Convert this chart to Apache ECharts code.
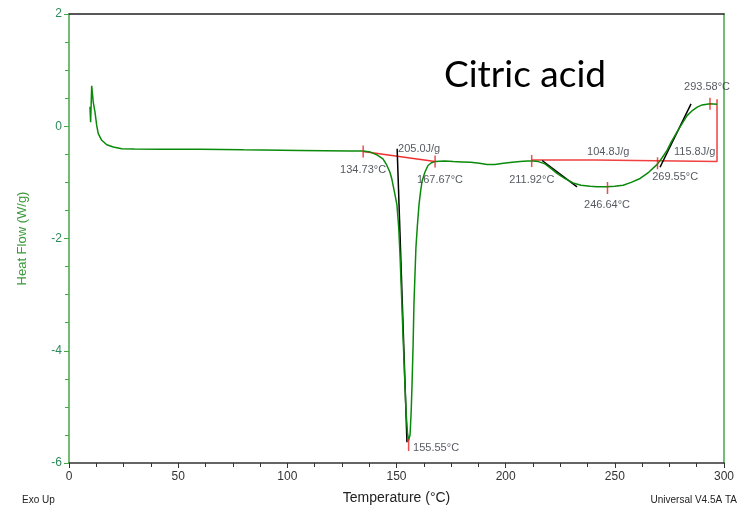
<!DOCTYPE html>
<html lang="en">
<head>
	<meta charset="utf-8">
	<title>Citric acid DSC</title>
	<script src="https://cdn.jsdelivr.net/npm/echarts@6/dist/echarts.min.js"></script>
	<style>
		html, body { margin: 0; padding: 0; background: #fff; }
		#main { width: 739px; height: 510px; }
	</style>
</head>
<body>
	<div id="main"></div>
	<script type="text/javascript">
		// DSC curve: temperature (°C) and heat flow (W/g)
		var temps = [9.6, 9.9, 10.4, 11.1, 11.9, 12.7, 13.4, 15, 17.3, 20.3, 24.1, 30, 41.7, 60, 80, 105.8, 128.7,
			134.7, 138, 141, 143.8, 145.5, 147, 147.8, 149.3, 150.2, 151, 151.6, 152.3, 153, 153.7, 154.4, 155, 155.5,
			156.2, 156.7, 157.1, 157.6, 158, 158.5, 158.9, 159.6, 160.3, 161, 161.7, 163, 164.4, 166, 167.7,
			172, 176, 180, 184, 188, 191.5, 195, 199, 203, 206.6, 210, 212.5, 215, 218, 221, 223.5, 227, 230.9,
			234.5, 238.7, 242, 246.4, 250, 253.8, 257.5, 261.6, 265.5, 269.4, 271.5, 273.9, 276, 278.5, 281,
			283.1, 285.5, 287.7, 290, 293.6, 296.8];
		var heatFlow = [0.35, 0.07, 0.72, 0.43, 0.25, 0.01, -0.13, -0.25, -0.33, -0.37, -0.40, -0.405, -0.41, -0.41, -0.42, -0.43, -0.44,
			-0.44, -0.46, -0.51, -0.58, -0.69, -0.82, -0.93, -1.22, -1.40, -1.8, -2.28, -3.0, -3.74, -4.45, -5.10, -5.45, -5.6,
			-5.5, -5.1, -4.63, -3.9, -3.16, -2.6, -2.16, -1.75, -1.40, -1.17, -0.98, -0.82, -0.70, -0.65, -0.63,
			-0.62, -0.63, -0.635, -0.64, -0.66, -0.68, -0.68, -0.66, -0.64, -0.63, -0.62, -0.62, -0.63, -0.67, -0.76, -0.84, -0.93, -1.01,
			-1.05, -1.07, -1.08, -1.08, -1.07, -1.05, -1.0, -0.93, -0.82, -0.68, -0.57, -0.43, -0.27, -0.10, 0.06,
			0.19, 0.28, 0.34, 0.38, 0.40, 0.39];

		// integration baselines (red)
		var meltBaseline = [[134.73, -0.45], [167.67, -0.63]];
		var decompBaseline = [[211.92, -0.60], [241, -0.60], [241, -0.63], [296.8, -0.63], [296.8, 0.48]];
		// onset tangents (black)
		var tangentMelt = [[150.3, -0.40], [154.8, -5.63]];
		var tangentDecomp1 = [[216.7, -0.61], [232.7, -1.08]];
		var tangentDecomp2 = [[270.7, -0.73], [284.9, 0.40]];
		// red limit markers
		var markerPoints = [[134.73, -0.45], [167.67, -0.63], [155.55, -5.68], [211.92, -0.62],
			[246.64, -1.10], [269.55, -0.66], [293.58, 0.40]];
		// text annotations [x, y, text]
		var annotLeft = [
			[150.7, -0.40, '205.0J/g'], [159.4, -0.96, '167.67°C'], [157.6, -5.74, '155.55°C'],
			[201.6, -0.96, '211.92°C'], [235.9, -1.40, '246.64°C'], [237.3, -0.45, '104.8J/g'],
			[277.1, -0.45, '115.8J/g'], [267.1, -0.91, '269.55°C'], [281.7, 0.70, '293.58°C']
		];
		var annotCenter = [[134.7, -0.78, '134.73°C']];

		var green = '#0a8a0a';
		var axisGreen = '#44a844';
		var textFont = 'Liberation Sans';

		var curve = [];
		for (var i = 0; i < temps.length; i++) {
			curve.push([temps[i], heatFlow[i]]);
		}

		function lineSeries(data, color, width) {
			return {
				type: 'line', data: data, symbol: 'none', silent: true,
				lineStyle: { color: color, width: width }, z: 3
			};
		}

		function labelSeries(data, align) {
			return {
				type: 'scatter', data: data, symbolSize: 0, silent: true,
				label: {
					show: true, position: 'inside', align: align, verticalAlign: 'middle',
					formatter: function (p) { return p.value[2]; },
					color: '#2a2f3a', fontSize: 11, fontFamily: textFont
				},
				z: 5
			};
		}

		var myChart = echarts.init(document.getElementById('main'));

		var option = {
			animation: false,
			title: {
				text: 'Citric acid',
				left: 439, top: 52,
				textStyle: { fontFamily: 'Lato', fontWeight: 'normal', fontSize: 37, color: '#000' }
			},
			grid: { left: 69, right: 15, top: 14, bottom: 42 },
			xAxis: [{
				type: 'value', min: 0, max: 300, interval: 50,
				name: 'Temperature (°C)', nameLocation: 'middle', nameGap: 28,
				nameTextStyle: { color: '#222', fontSize: 14, fontFamily: textFont },
				axisLine: { onZero: false, lineStyle: { color: '#333', width: 1.5 } },
				axisTick: { length: 5, lineStyle: { color: '#333' } },
				minorTick: { show: true, splitNumber: 4, length: 4, lineStyle: { color: '#333' } },
				axisLabel: { color: '#333', fontSize: 12, fontFamily: textFont, margin: 8 },
				splitLine: { show: false }
			}, {
				type: 'value', position: 'top', min: 0, max: 300,
				axisLine: { onZero: false, lineStyle: { color: '#222', width: 1.5 } },
				axisTick: { show: false }, axisLabel: { show: false }, splitLine: { show: false }
			}],
			yAxis: [{
				type: 'value', min: -6, max: 2, interval: 2,
				name: 'Heat Flow (W/g)', nameLocation: 'middle', nameGap: 40,
				nameTextStyle: { color: '#3a9a3a', fontSize: 13, fontFamily: textFont },
				axisLine: { show: true, onZero: false, lineStyle: { color: axisGreen, width: 1.5 } },
				axisTick: { length: 5, lineStyle: { color: axisGreen } },
				minorTick: { show: true, splitNumber: 4, length: 4, lineStyle: { color: axisGreen } },
				axisLabel: { color: '#2c8a5a', fontSize: 12, fontFamily: textFont, margin: 7 },
				splitLine: { show: false }
			}, {
				type: 'value', position: 'right', min: -6, max: 2,
				axisLine: { show: true, onZero: false, lineStyle: { color: axisGreen, width: 1.5 } },
				axisTick: { show: false }, axisLabel: { show: false }, splitLine: { show: false }
			}],
			series: [
				lineSeries(meltBaseline, '#f03030', 1.5),
				lineSeries(decompBaseline, '#f04040', 1.5),
				lineSeries(tangentMelt, '#000', 1.5),
				lineSeries(tangentDecomp1, '#000', 1.5),
				lineSeries(tangentDecomp2, '#000', 1.5),
				{
					type: 'line', data: curve, symbol: 'none', silent: true,
					lineStyle: { color: green, width: 1.5 }, z: 4
				},
				{
					type: 'scatter', data: markerPoints, symbol: 'rect', symbolSize: [1.5, 12], silent: true,
					itemStyle: { color: '#e82020' }, z: 6
				},
				labelSeries(annotLeft, 'left'),
				labelSeries(annotCenter, 'center')
			],
			graphic: [
				{ type: 'text', left: 22, top: 495, style: { text: 'Exo Up', fill: '#222', font: '10px "Liberation Sans"' } },
				{ type: 'text', right: 2, top: 495, style: { text: 'Universal V4.5A TA', fill: '#222', font: '10px "Liberation Sans"' } }
			]
		};
		myChart.setOption(option);
	</script>
</body>
</html>
